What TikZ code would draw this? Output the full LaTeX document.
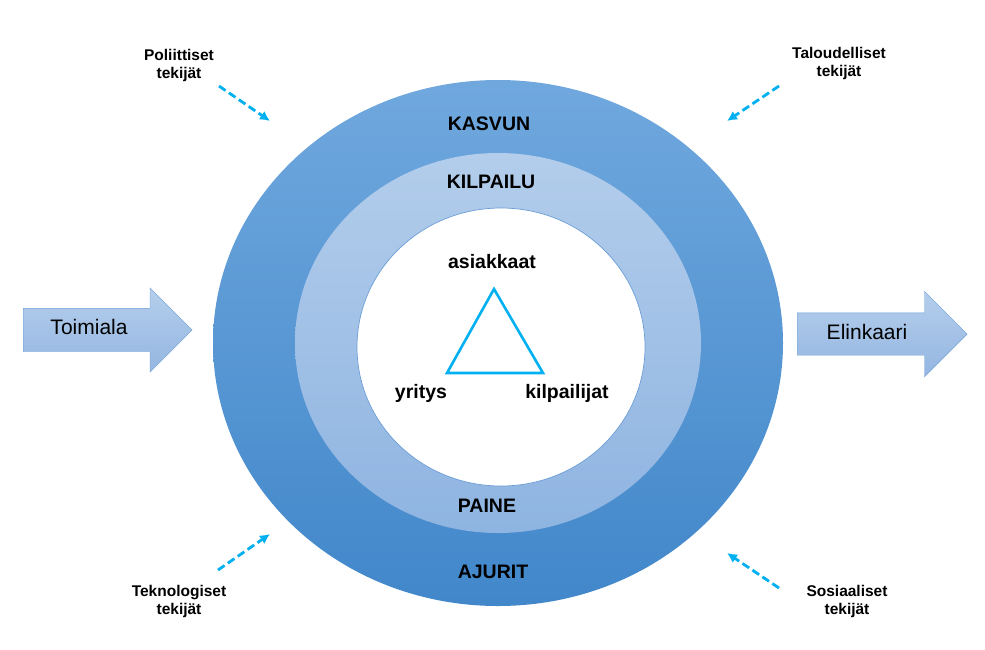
\documentclass[tikz,border=0pt]{standalone}
\usepackage{fontspec}
\setmainfont{Liberation Sans}
\usepackage{tikz}
\usetikzlibrary{arrows.meta, shapes.geometric, shapes.arrows, positioning}
\definecolor{outerTop}{HTML}{70A8DE}
\definecolor{outerBottom}{HTML}{4187CA}
\definecolor{midTop}{HTML}{B3CDEB}
\definecolor{midBottom}{HTML}{8EB4E1}
\definecolor{arrowTop}{HTML}{B5CEEC}
\definecolor{arrowBottom}{HTML}{94B6E1}
\definecolor{arrowLine}{HTML}{6A9DD7}
\definecolor{forceBlue}{HTML}{00B0F0}
\tikzstyle{ring} = [ellipse, inner sep=0pt]
\tikzstyle{ringLabel} = [anchor=base, font=\bfseries\fontsize{19.5}{22}\selectfont]
\tikzstyle{cornerLabel} = [align=center, font=\bfseries\fontsize{15.5}{18}\selectfont]
\tikzstyle{bigArrow} = [single arrow, anchor=tail, inner xsep=0pt, inner ysep=21.5pt,
   draw=arrowLine, top color=arrowTop, bottom color=arrowBottom,
   single arrow head indent=0pt]
\tikzstyle{arrowText} = [anchor=base, font=\fontsize{21}{24}\selectfont]
\tikzstyle{forceArrow} = [forceBlue, line width=2.8pt, dash pattern=on 8pt off 4pt,
   -{Latex[length=10pt,width=10pt]}]

\begin{document}
\begin{tikzpicture}[x=1pt, y=-1pt]
	\useasboundingbox (0,0) rectangle (985,649);

	% rings
	\node[ring, top color=outerTop, bottom color=outerBottom,
		minimum width=570pt, minimum height=526pt] (kasvun) at (498,343) {};
	\node[ring, top color=midTop, bottom color=midBottom,
		minimum width=406pt, minimum height=380pt] (kilpailu) at (498,343) {};
	\node[ring, fill=white, draw=arrowLine, line width=0.7pt,
		minimum width=288pt, minimum height=278pt] (core) at (501,347) {};

	\node[ringLabel] (kasvunText) at (489,130) {KASVUN};
	\node[ringLabel] (kilpailuText) at (491,188) {KILPAILU};
	\node[ringLabel] (paineText) at (487,512) {PAINE};
	\node[ringLabel] (ajuritText) at (493,578) {AJURIT};

	% triangle in the middle
	\coordinate (triTop) at (494,289);
	\coordinate (triLeft) at (447,373);
	\coordinate (triRight) at (543,373);
	\draw[forceBlue, line width=2.6pt, line join=miter] (triTop) -- (triLeft) -- (triRight) -- cycle;

	\node[ringLabel] (asiakkaat) at (492,268) {asiakkaat};
	\node[ringLabel] (yritys) at (421,398) {yritys};
	\node[ringLabel] (kilpailijat) at (567,398) {kilpailijat};

	% big arrows
	\node[bigArrow, minimum height=169pt, single arrow head extend=20.5pt] (toimiala) at (23,330) {};
	\node[arrowText] (toimialaText) at (89,334) {Toimiala};
	\node[bigArrow, minimum height=170pt, single arrow head extend=21.5pt, inner ysep=21pt] (elinkaari) at (797,334) {};
	\node[arrowText] (elinkaariText) at (867,339) {Elinkaari};

	% outside factors
	\node[cornerLabel] (poliittiset) at (179,65) {Poliittiset\\tekijät};
	\node[cornerLabel] (taloudelliset) at (839,63) {Taloudelliset\\tekijät};
	\node[cornerLabel] (teknologiset) at (179,601) {Teknologiset\\tekijät};
	\node[cornerLabel] (sosiaaliset) at (847,601) {Sosiaaliset\\tekijät};

	\coordinate (polStart) at (219,86);
	\coordinate (polEnd) at (270,121);
	\coordinate (talStart) at (779,86);
	\coordinate (talEnd) at (727,121);
	\coordinate (tekStart) at (218,570);
	\coordinate (tekEnd) at (270,534);
	\coordinate (sosStart) at (779,588);
	\coordinate (sosEnd) at (727,553);

	\draw[forceArrow] (polStart) -- (polEnd);
	\draw[forceArrow] (talStart) -- (talEnd);
	\draw[forceArrow] (tekStart) -- (tekEnd);
	\draw[forceArrow] (sosStart) -- (sosEnd);
\end{tikzpicture}
\end{document}
